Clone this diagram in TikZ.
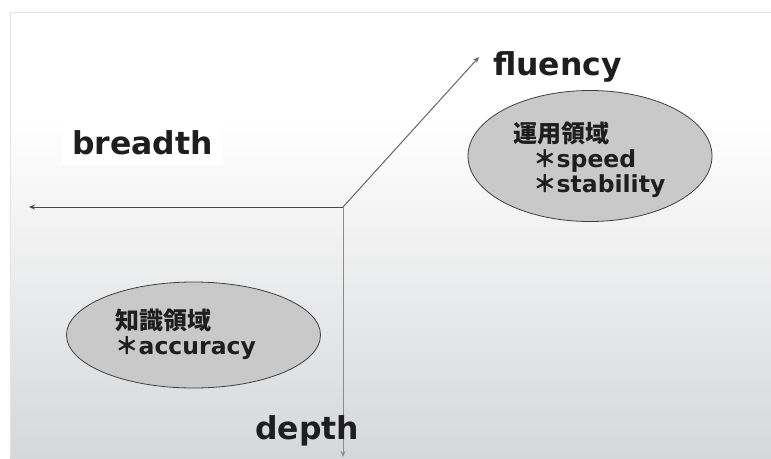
\documentclass[tikz,border=0pt]{standalone}
\usepackage{fontspec}
\setmainfont{DejaVu Sans}
\newfontfamily\cjk{Noto Sans CJK JP}
\usetikzlibrary{arrows.meta,shapes.geometric}
\definecolor{bgbot}{HTML}{D6D7D9}
\definecolor{ellfill}{HTML}{C9C9C9}
\definecolor{ink}{HTML}{1E1E1E}
\begin{document}
\begin{tikzpicture}[x=1pt,y=-1pt,
  axisline/.style={line width=1pt,-{Stealth[length=6pt,width=5pt]}},
  axislabel/.style={font=\fontsize{31.5}{36}\selectfont\bfseries, text=ink, inner sep=0pt, anchor=base west},
  areashape/.style={ellipse, draw=black!75, line width=0.8pt, fill=ellfill, inner sep=0pt},
  cjktext/.style={font=\cjk\bfseries\fontsize{24}{28}\selectfont, text=ink, inner sep=0pt, anchor=base west},
  itemtext/.style={font=\bfseries\fontsize{23.5}{26}\selectfont, text=ink, inner sep=0pt, anchor=base west}
]
\useasboundingbox (0,0) rectangle (771,458);
\fill[white] (0,0) rectangle (771,458);
\fill[white] (10,12) rectangle (771,120);
\shade[top color=white,bottom color=bgbot] (10,120) rectangle (771,458);
\draw[black!10, line width=1pt] (10,458) -- (10,12) -- (771,12);

% white box behind breadth
\fill[white] (62,118) rectangle (222,165);

% axes
\coordinate (O) at (343,207);
\coordinate (L) at (29,207);
\coordinate (F) at (479,57);
\coordinate (D) at (343,457);
\draw[axisline, draw=black!72] (O) -- (L);
\draw[axisline, draw=black!60] (O) -- (F);
\draw[axisline, draw=black!45] (O) -- (D);

% labels
\node[axislabel] (breadth) at (72,154) {breadth};
\node[axislabel] (fluency) at (493,75) {fluency};
\node[axislabel] (depth) at (255,439) {depth};

% ellipses
\node[areashape, minimum width=244pt, minimum height=131pt] (use) at (590,156) {};
\node[areashape, minimum width=254pt, minimum height=106pt] (know) at (193.5,335) {};

\node[cjktext] (usetitle) at (513,142) {運用領域};
\node[itemtext] (speed) at (533,167) {{\cjk＊}speed};
\node[itemtext] (stab) at (533,192) {{\cjk＊}stability};

\node[cjktext] (knowtitle) at (115,329) {知識領域};
\node[itemtext] (acc) at (115,354) {{\cjk＊}accuracy};
\end{tikzpicture}
\end{document}
